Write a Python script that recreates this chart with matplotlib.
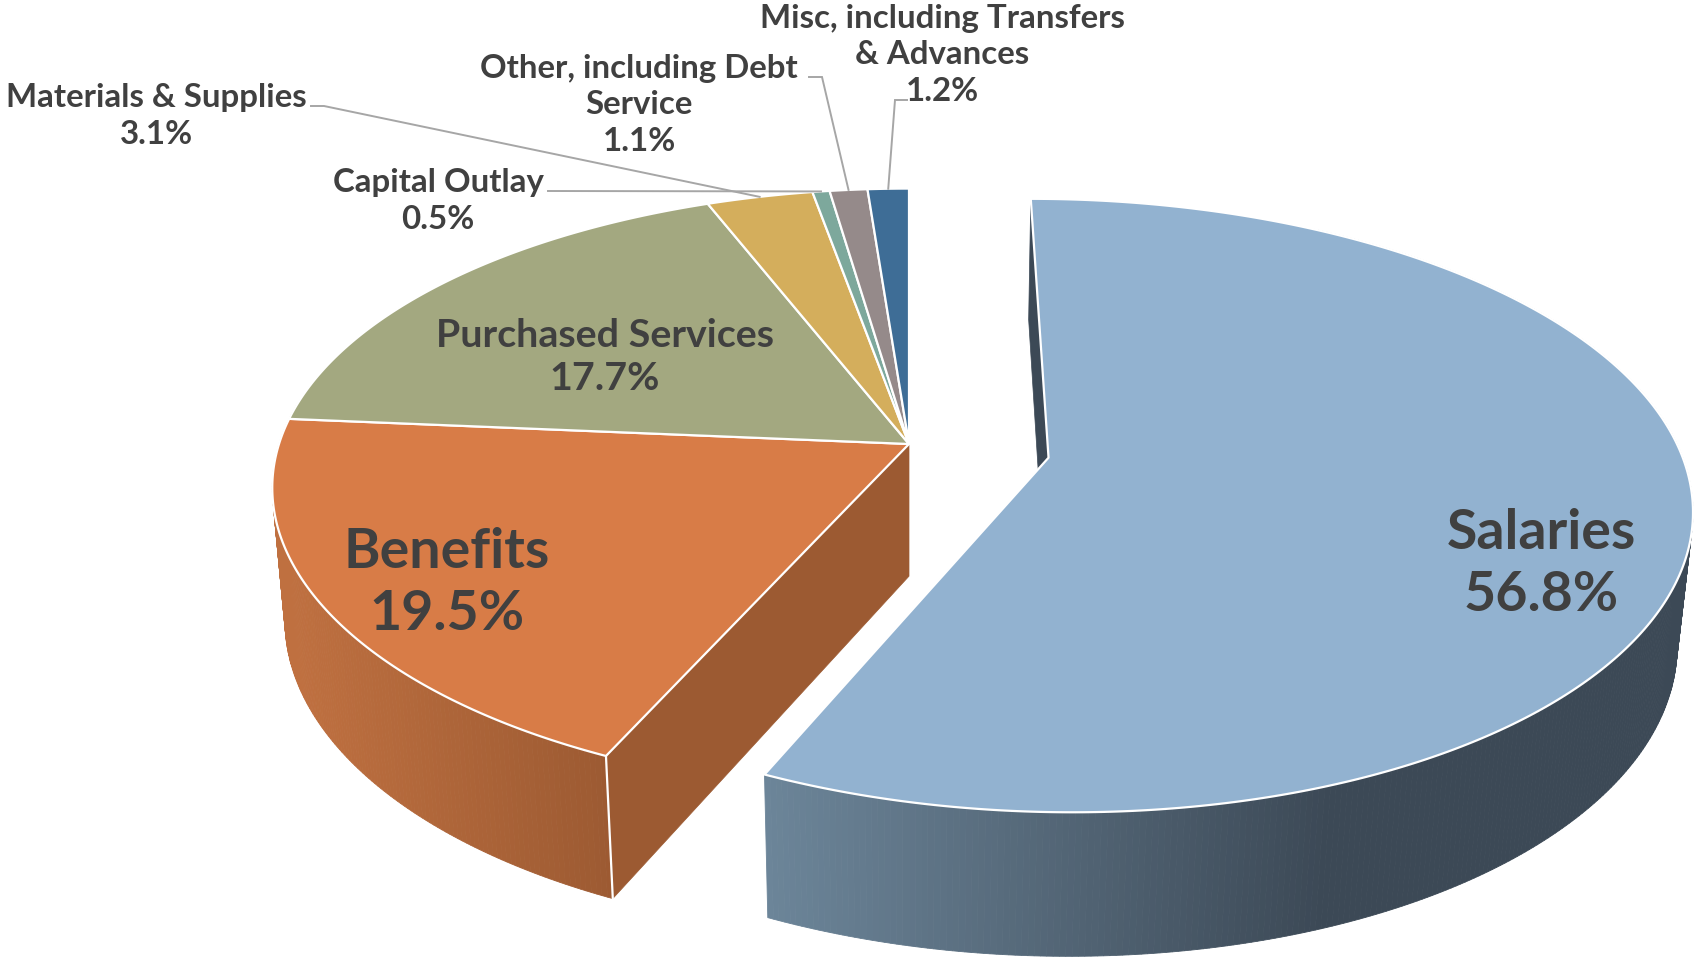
import numpy as np
import matplotlib
matplotlib.use("Agg")
import matplotlib.pyplot as plt
from matplotlib.colors import to_rgb

categories = ["Salaries", "Benefits", "Purchased Services", "Materials & Supplies",
              "Capital Outlay", "Other, including Debt\nService", "Misc, including Transfers\n& Advances"]
values = [56.8, 19.5, 17.7, 3.1, 0.5, 1.1, 1.2]
top_colors = ["#92B2D0", "#D87C47", "#A3A880", "#D4AE5C", "#7DA89C", "#958A8A", "#3E6D96"]

# label layout (pixels): centre x, centre y, font size
label_pos = [(1541, 564, 40), (447, 583, 40), (605, 357, 28.4),
             (156, 116, 23.8), (438, 201, 23.8), (639, 105, 23.8), (942, 55, 23.8)]
# leader start points (label end of the line) and elbow
leaders = {3: [(311, 106), (324, 106)], 4: [(548, 191)],
           5: [(809, 77), (822, 77)], 6: [(907, 100), (895, 100)]}

# projection of the pie
CX, CY, B, A, A2, KX, KY, MX, MY, H = 909, 444, 630, 295, 300, 0.145, 0.155, 0.02, 0.044, 138
EXPLODE = (0.22, 0.046)
FONT = "Lato"
TEXT = "#404040"

fig = plt.figure(figsize=(16.97, 9.57), dpi=100)
ax = fig.add_axes([0, 0, 1, 1])
ax.set_xlim(0, 1697)
ax.set_ylim(957, 0)
ax.axis("off")


def project(theta, r=1.0, off=(0, 0), bottom=False):
    t = np.radians(theta)
    X = r * np.sin(t) + off[0]
    Y = -r * np.cos(t) + off[1]
    dx = 1 - KX * Y + (MX if bottom else 0)
    dy = 1 - KY * Y + (MY if bottom else 0)
    if bottom:
        return CX + B * X / dx, CY + (A2 * Y + H) / dy
    return CX + B * X / dx, CY + A * Y / dy


def ramp(x, x0, x1, c0, c1):
    f = np.clip((x - x0) / (x1 - x0), 0, 1)
    return tuple((1 - f) * np.array(to_rgb(c0)) + f * np.array(to_rgb(c1)))


def wall(t0, t1, off, x0, x1, c0, c1, z):
    ts = np.linspace(t0, t1, int((t1 - t0) * 2) + 2)
    for a, b in zip(ts[:-1], ts[1:]):
        xa, ya = project(a, off=off)
        xb, yb = project(b, off=off)
        xc, yc = project(b, off=off, bottom=True)
        xd, yd = project(a, off=off, bottom=True)
        col = ramp((xa + xb) / 2, x0, x1, c0, c1)
        ax.fill([xa, xb, xc, xd], [ya, yb, yc, yd], color=col, lw=0.6, zorder=z)


def cut(theta, off, color, z):
    x0, y0 = project(0, 0, off)
    x1, y1 = project(theta, 1, off)
    x2, y2 = project(theta, 1, off, True)
    x3, y3 = project(0, 0, off, True)
    ax.fill([x0, x1, x2, x3], [y0, y1, y2, y3], color=color, lw=0.5, zorder=z)


def top_face(t0, t1, off, color, z):
    ts = np.linspace(t0, t1, max(int((t1 - t0) * 2), 2))
    xs, ys = project(ts, off=off)
    ax0, ay0 = project(0, 0, off)
    ax.fill(np.r_[ax0, xs], np.r_[ay0, ys], facecolor=color, edgecolor="white",
            lw=1.6, joinstyle="round", zorder=z)


edges = np.r_[0, np.cumsum(values)] / np.sum(values) * 360
none = (0, 0)

# main pie (all slices but the first)
wall(edges[1], edges[2] + 3, none, 290, 610, "#BF7040", "#9C5A32", 1)
cut(edges[1], none, "#9C5A32", 2)
fx, fy = project(edges[1], off=none)
gx, gy = project(edges[1], off=none, bottom=True)
ax.plot([fx, gx], [fy, gy], color="white", lw=1.6, zorder=3)
for i in range(1, len(values)):
    top_face(edges[i], edges[i + 1], none, top_colors[i], 4)

# exploded first slice
wall(edges[0] + 30, edges[1], EXPLODE, 766, 1330, "#6C8599", "#3C4956", 5)
cut(0, EXPLODE, "#3C4956", 6)
top_face(edges[0], edges[1], EXPLODE, top_colors[0], 7)

# leader lines drawn to the slice rims
for i, pts in leaders.items():
    mid = (edges[i] + edges[i + 1]) / 2
    tx, ty = project(mid, off=none)
    xs = [p[0] for p in pts] + [tx]
    ys = [p[1] for p in pts] + [ty]
    ax.plot(xs, ys, color="#A6A6A6", lw=1.4, zorder=8, solid_joinstyle="miter")

for name, v, (x, y, fs) in zip(categories, values, label_pos):
    ax.text(x, y, f"{name}\n{v:.1f}%", ha="center", va="center", fontsize=fs,
            family=FONT, weight="bold", color=TEXT, linespacing=1.3, zorder=9)

fig.savefig("out.png", dpi=100)
